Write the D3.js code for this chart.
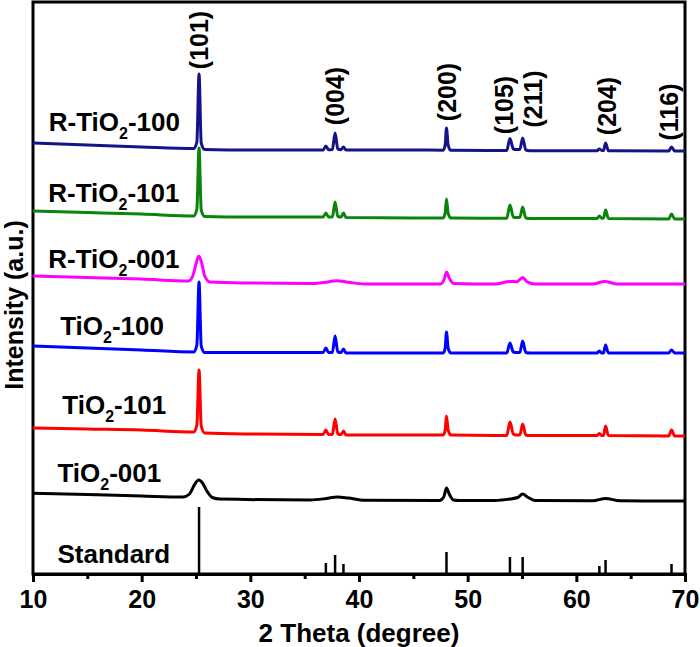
<!DOCTYPE html>
<html>
<head>
<meta charset="utf-8">
<script src="https://cdn.jsdelivr.net/npm/d3@7"></script>
<style>
  html, body { margin: 0; padding: 0; background: #fff; }
  svg text { font-family: "Liberation Sans", Arial, sans-serif; font-weight: bold; fill: #000; }
</style>
</head>
<body>
<svg id="chart" width="700" height="647"></svg>
<script>
// ---- Data (2θ in degrees, intensity in arbitrary units with stacking offsets) ----
const xTicks = [10, 20, 30, 40, 50, 60, 70];
const xMinorTicks = [15, 25, 35, 45, 55, 65];

const seriesNames = ["R-TiO2-100", "R-TiO2-101", "R-TiO2-001", "TiO2-100", "TiO2-101", "TiO2-001"];
const seriesColors = ["#14148a", "#0a840a", "#ff00ff", "#0000ff", "#ff0000", "#000000"];

const rTiO2_100 = [[10,431],[15,429],[20,427],[24.8,425.5],[25.08,432],[25.28,500],[25.48,431],[25.8,424.5],[30,424],[36.7,424],[36.95,428],[37.2,424.3],[37.55,424.5],[37.8,441],[38.05,425],[38.35,424.3],[38.57,427],[38.8,424],[45,424],[47.75,423.8],[47.93,429],[48.05,446],[48.2,429],[48.45,423.8],[53.6,423.5],[53.89,435.5],[54.2,425],[54.45,424.5],[54.8,424.5],[55.06,436],[55.35,424],[55.7,423.3],[61.9,423.3],[62.12,425],[62.35,423.5],[62.5,423.5],[62.69,431],[62.95,423.3],[68.5,423],[68.76,427],[69.05,423],[70,423]];
const rTiO2_101 = [[10,363],[15,361.5],[20,360],[24.8,358],[25.08,365],[25.28,426],[25.48,364],[25.8,357.5],[30,357],[36.7,357],[36.95,361],[37.2,357],[37.55,357],[37.8,372],[38.05,357.5],[38.35,357],[38.57,361],[38.8,356.5],[45,356],[47.75,356],[47.93,361],[48.05,375],[48.2,361],[48.45,356],[53.6,355.8],[53.89,369],[54.2,357],[54.45,356.5],[54.8,356.5],[55.06,367],[55.35,356],[55.7,355.5],[61.9,355.5],[62.12,358],[62.35,355.8],[62.5,355.8],[62.69,364],[62.95,355.5],[68.5,355],[68.76,360],[69.05,355],[70,355]];
const rTiO2_001 = [[10,298],[15,296.5],[20,295],[24.3,293],[24.7,298],[25.0,310],[25.25,318],[25.5,312],[25.8,298],[26.3,292],[30,291],[35.5,290.5],[37,291.8],[37.9,293.3],[39,291.8],[40.5,290],[47.5,290],[47.85,295],[48.05,302],[48.3,296],[48.7,290.5],[52.5,290],[53.9,292.5],[54.5,292.3],[55.06,296.5],[55.5,292],[56.2,290],[61.5,290],[62.6,292.5],[63.8,290],[70,290]];
const tiO2_100 = [[10,228],[15,226],[20,224],[24.8,222],[25.08,229],[25.28,292],[25.48,228],[25.8,221.5],[30,221.5],[36.7,221.5],[36.95,226],[37.2,221.5],[37.55,221.5],[37.8,238],[38.05,222],[38.35,221.5],[38.57,225],[38.8,221],[45,221],[47.75,221],[47.93,226],[48.05,242],[48.2,226],[48.45,221],[53.6,221],[53.89,231],[54.2,222],[54.45,221.5],[54.8,221.5],[55.06,233],[55.35,221.5],[55.7,221],[61.9,221],[62.12,223],[62.35,221],[62.5,221],[62.69,229],[62.95,221],[68.5,221],[68.76,224],[69.05,221],[70,221]];
const tiO2_101 = [[10,146],[15,145],[20,144],[24.8,142],[25.08,149],[25.28,204],[25.48,148],[25.8,141],[30,140],[36.7,139.5],[36.95,144],[37.2,139.5],[37.55,139.5],[37.8,155],[38.05,140],[38.35,139.5],[38.57,143],[38.8,139],[45,139],[47.75,139],[47.93,144],[48.05,158],[48.2,144],[48.45,139],[53.6,138.5],[53.89,152],[54.2,140],[54.45,139],[54.8,139],[55.06,150],[55.35,139],[55.7,138.5],[61.9,138.5],[62.12,140.5],[62.35,138.5],[62.5,138.5],[62.69,148],[62.95,138.5],[68.5,138],[68.76,144],[69.05,138],[70,138]];
const tiO2_001 = [[10,80.7],[15,79.5],[20,78],[23.8,77],[24.4,80],[24.9,90],[25.25,94],[25.6,91],[26.0,83],[26.5,76.5],[27.2,75],[35.5,74],[37,75.5],[38,77],[39,76],[40.5,73.8],[47.4,73.5],[47.8,77],[48.05,86],[48.3,80],[48.7,74],[49.2,73.5],[52.5,73.5],[53.9,75],[54.6,76.5],[55.06,80],[55.5,77],[56.2,73.5],[61.5,73.2],[62.7,75.5],[64,73.2],[70,73]];
const seriesData = [rTiO2_100, rTiO2_101, rTiO2_001, tiO2_100, tiO2_101, tiO2_001];

// label anchor (2θ, intensity) for each series name
const seriesLabelAt = [[11.45,443],[11.4,372],[11.4,306],[12.5,239],[12.7,160],[12.25,92]];

// Standard reference pattern (anatase): positions and stick heights
const stdPos = [25.28, 36.95, 37.80, 38.57, 48.05, 53.89, 55.06, 62.12, 62.69, 68.76];
const stdInt = [67, 11, 19, 10, 22, 17, 17, 8, 14, 10];
const stdLabel = "Standard";
const stdLabelAt = [12.25, 11];

// Miller indices labels: text, 2θ centre, intensity centre
const peakLabels = ["(101)", "(004)", "(200)", "(105)", "(211)", "(204)", "(116)"];
const peakLabelX = [25.3, 37.8, 48.1, 53.3, 56.0, 62.8, 68.5];
const peakLabelY = [534, 478, 482, 469, 475, 468, 462];

// ---- Chart ----
const svg = d3.select("#chart");
const x = d3.scaleLinear().domain([10, 70]).range([33, 685]);
const y = d3.scaleLinear().domain([0, 572]).range([574, 2]);

// frame
svg.append("rect")
  .attr("x", x(10)).attr("y", y(572))
  .attr("width", x(70) - x(10)).attr("height", y(0) - y(572))
  .attr("fill", "none").attr("stroke", "#000").attr("stroke-width", 3);

// x axis
const xAxis = d3.axisBottom(x).tickValues(xTicks).tickSize(8).tickPadding(6).tickFormat(d3.format("d"));
const gx = svg.append("g").attr("transform", `translate(0,${y(0)})`).call(xAxis);
gx.select(".domain").attr("stroke-width", 3);
gx.selectAll(".tick line").attr("stroke-width", 3);
gx.selectAll(".tick text").attr("font-size", 25).attr("font-family", '"Liberation Sans", Arial, sans-serif').attr("font-weight", "bold").attr("dy", "0.78em");
const gxm = svg.append("g").attr("transform", `translate(0,${y(0)})`)
  .call(d3.axisBottom(x).tickValues(xMinorTicks).tickSize(5).tickFormat(""));
gxm.select(".domain").remove();
gxm.selectAll(".tick line").attr("stroke-width", 3);

// standard sticks
svg.append("g").selectAll("line").data(stdPos).join("line")
  .attr("x1", d => x(d)).attr("x2", d => x(d))
  .attr("y1", y(0)).attr("y2", (d, i) => y(stdInt[i]))
  .attr("stroke", "#000").attr("stroke-width", 2.5);

// series lines (bottom first so upper curves draw on top)
const line = d3.line().x(d => x(d[0])).y(d => y(d[1])).curve(d3.curveMonotoneX);
const order = d3.range(seriesData.length).reverse();
svg.append("g").selectAll("path").data(order).join("path")
  .attr("d", i => line(seriesData[i]))
  .attr("fill", "none")
  .attr("stroke", i => seriesColors[i])
  .attr("stroke-width", 3)
  .attr("stroke-linejoin", "round");

// series labels with subscript
seriesNames.forEach((name, i) => {
  const t = svg.append("text")
    .attr("x", x(seriesLabelAt[i][0])).attr("y", y(seriesLabelAt[i][1]))
    .attr("font-size", 26);
  const idx = name.indexOf("2");
  t.append("tspan").text(name.slice(0, idx));
  t.append("tspan").attr("font-size", 16).attr("dy", 8).text("2");
  t.append("tspan").attr("dy", -8).text(name.slice(idx + 1));
});
svg.append("text").attr("x", x(stdLabelAt[0])).attr("y", y(stdLabelAt[1]))
  .attr("font-size", 26).text(stdLabel);

// Miller index labels (rotated)
peakLabels.forEach((lab, i) => {
  const cx = x(peakLabelX[i]), cy = y(peakLabelY[i]);
  svg.append("text")
    .attr("transform", `translate(${cx},${cy}) rotate(-90)`)
    .attr("text-anchor", "middle").attr("dy", "0.36em")
    .attr("font-size", 25).text(lab);
});

// axis titles
svg.append("text").attr("x", (x(10) + x(70)) / 2).attr("y", 642)
  .attr("text-anchor", "middle").attr("font-size", 26).text("2 Theta (degree)");
svg.append("text")
  .attr("transform", `translate(14,${y(269)}) rotate(-90)`)
  .attr("text-anchor", "middle").attr("dy", "0.34em")
  .attr("font-size", 25).text("Intensity (a.u.)");
</script>
</body>
</html>
